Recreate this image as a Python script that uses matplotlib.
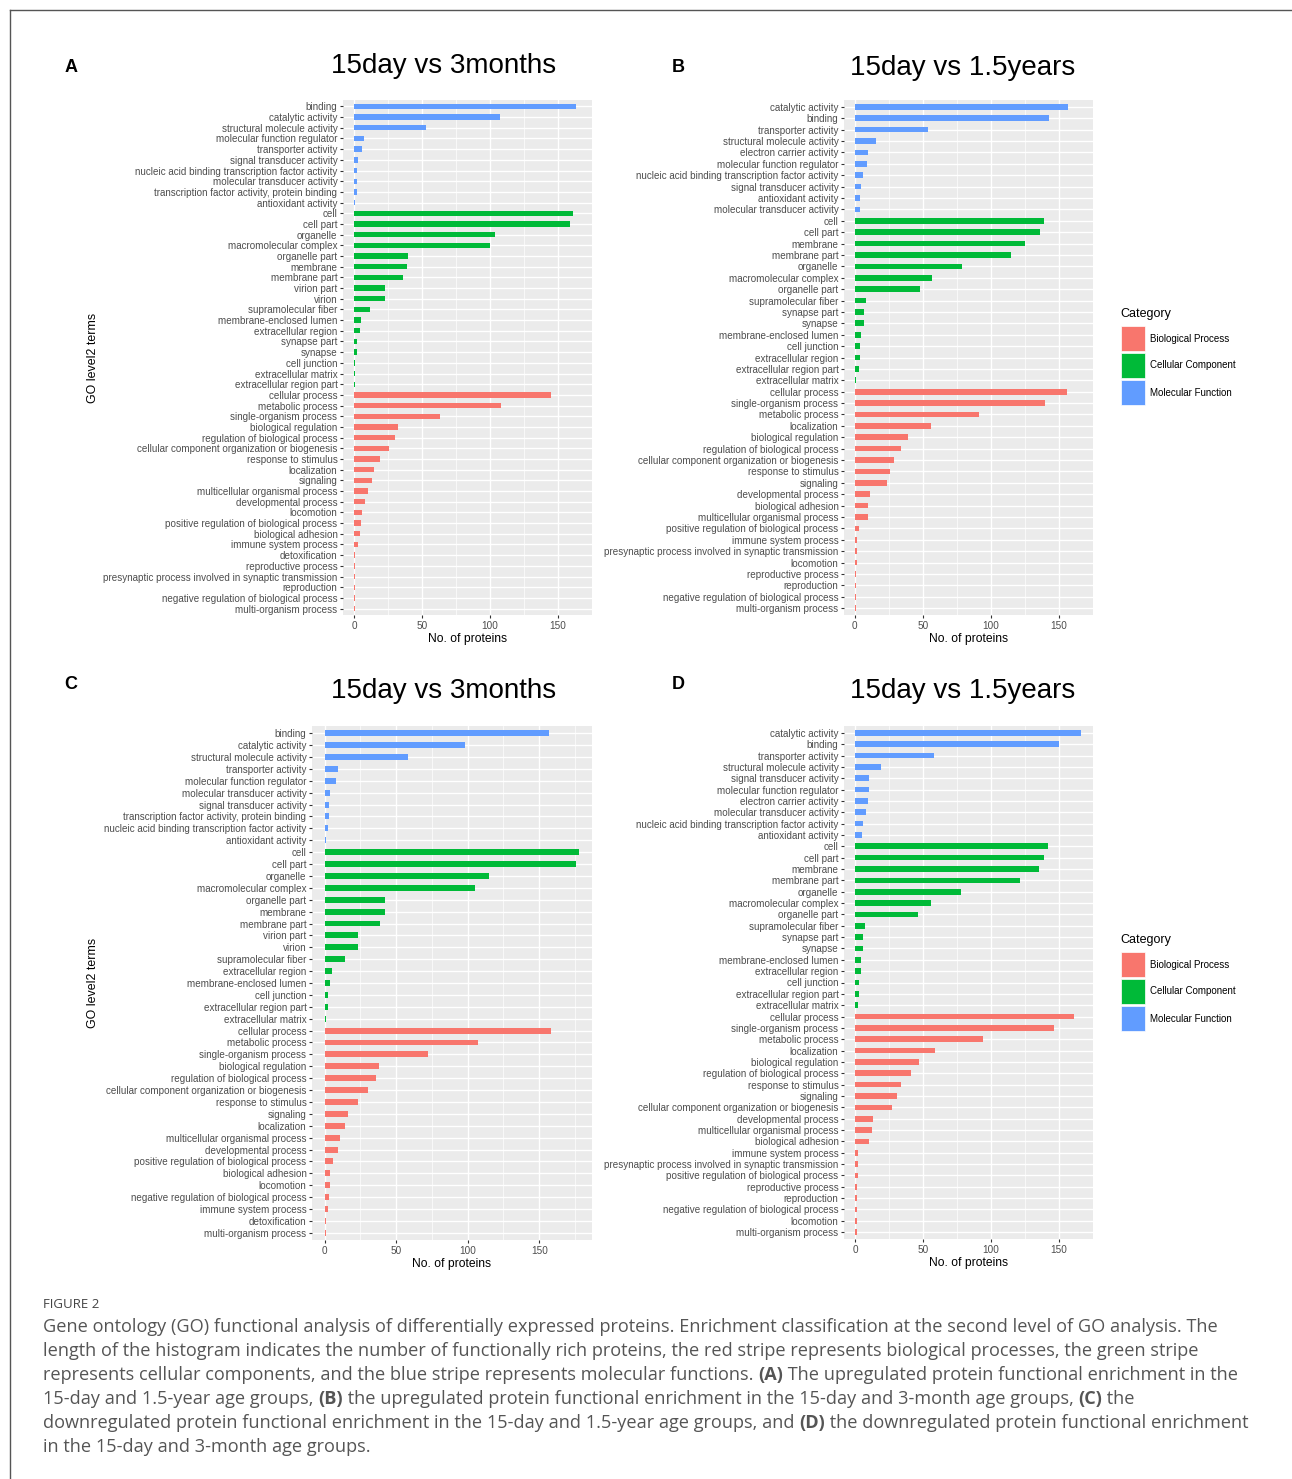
import numpy as np
import matplotlib
matplotlib.use('Agg')
import matplotlib.pyplot as plt
from matplotlib.patches import Rectangle
from matplotlib.lines import Line2D

W, H = 1292, 1479

BP_COL = '#F8766D'
CC_COL = '#00BA38'
MF_COL = '#619CFF'

# ---------------- A: 15day vs 3months (up) ----------------
a_mf_terms = ['binding', 'catalytic activity', 'structural molecule activity',
              'molecular function regulator', 'transporter activity', 'signal transducer activity',
              'nucleic acid binding transcription factor activity', 'molecular transducer activity',
              'transcription factor activity, protein binding', 'antioxidant activity']
a_mf_counts = [163, 107, 53, 7, 6, 3, 2, 2, 2, 1]
a_cc_terms = ['cell', 'cell part', 'organelle', 'macromolecular complex', 'organelle part',
              'membrane', 'membrane part', 'virion part', 'virion', 'supramolecular fiber',
              'membrane-enclosed lumen', 'extracellular region', 'synapse part', 'synapse',
              'cell junction', 'extracellular matrix', 'extracellular region part']
a_cc_counts = [161, 159, 104, 100, 40, 39, 36, 23, 23, 12, 5, 4, 2, 2, 1, 1, 1]
a_bp_terms = ['cellular process', 'metabolic process', 'single-organism process',
              'biological regulation', 'regulation of biological process',
              'cellular component organization or biogenesis', 'response to stimulus',
              'localization', 'signaling', 'multicellular organismal process',
              'developmental process', 'locomotion', 'positive regulation of biological process',
              'biological adhesion', 'immune system process', 'detoxification',
              'reproductive process', 'presynaptic process involved in synaptic transmission',
              'reproduction', 'negative regulation of biological process', 'multi-organism process']
a_bp_counts = [145, 108, 63, 32, 30, 26, 19, 15, 13, 10, 8, 6, 5, 4, 3, 1, 1, 1, 1, 1, 1]

# ---------------- B: 15day vs 1.5years (up) ----------------
b_mf_terms = ['catalytic activity', 'binding', 'transporter activity', 'structural molecule activity',
              'electron carrier activity', 'molecular function regulator',
              'nucleic acid binding transcription factor activity', 'signal transducer activity',
              'antioxidant activity', 'molecular transducer activity']
b_mf_counts = [157, 143, 54, 16, 10, 9, 6, 5, 4, 4]
b_cc_terms = ['cell', 'cell part', 'membrane', 'membrane part', 'organelle', 'macromolecular complex',
              'organelle part', 'supramolecular fiber', 'synapse part', 'synapse',
              'membrane-enclosed lumen', 'cell junction', 'extracellular region',
              'extracellular region part', 'extracellular matrix']
b_cc_counts = [139, 136, 125, 115, 79, 57, 48, 8, 7, 7, 5, 4, 4, 3, 1]
b_bp_terms = ['cellular process', 'single-organism process', 'metabolic process', 'localization',
              'biological regulation', 'regulation of biological process',
              'cellular component organization or biogenesis', 'response to stimulus', 'signaling',
              'developmental process', 'biological adhesion', 'multicellular organismal process',
              'positive regulation of biological process', 'immune system process',
              'presynaptic process involved in synaptic transmission', 'locomotion',
              'reproductive process', 'reproduction', 'negative regulation of biological process',
              'multi-organism process']
b_bp_counts = [156, 140, 91, 56, 39, 34, 29, 26, 24, 11, 10, 10, 3, 2, 2, 2, 1, 1, 1, 1]

# ---------------- C: 15day vs 3months (down) ----------------
c_mf_terms = ['binding', 'catalytic activity', 'structural molecule activity', 'transporter activity',
              'molecular function regulator', 'molecular transducer activity',
              'signal transducer activity', 'transcription factor activity, protein binding',
              'nucleic acid binding transcription factor activity', 'antioxidant activity']
c_mf_counts = [157, 98, 58, 9, 8, 4, 3, 3, 2, 1]
c_cc_terms = ['cell', 'cell part', 'organelle', 'macromolecular complex', 'organelle part',
              'membrane', 'membrane part', 'virion part', 'virion', 'supramolecular fiber',
              'extracellular region', 'membrane-enclosed lumen', 'cell junction',
              'extracellular region part', 'extracellular matrix']
c_cc_counts = [178, 176, 115, 105, 42, 42, 39, 23, 23, 14, 5, 4, 2, 2, 1]
c_bp_terms = ['cellular process', 'metabolic process', 'single-organism process',
              'biological regulation', 'regulation of biological process',
              'cellular component organization or biogenesis', 'response to stimulus',
              'signaling', 'localization', 'multicellular organismal process',
              'developmental process', 'positive regulation of biological process',
              'biological adhesion', 'locomotion', 'negative regulation of biological process',
              'immune system process', 'detoxification', 'multi-organism process']
c_bp_counts = [158, 107, 72, 38, 36, 30, 23, 16, 14, 11, 9, 6, 4, 4, 3, 2, 1, 1]

# ---------------- D: 15day vs 1.5years (down) ----------------
d_mf_terms = ['catalytic activity', 'binding', 'transporter activity', 'structural molecule activity',
              'signal transducer activity', 'molecular function regulator',
              'electron carrier activity', 'molecular transducer activity',
              'nucleic acid binding transcription factor activity', 'antioxidant activity']
d_mf_counts = [166, 150, 58, 19, 10, 10, 9, 8, 6, 5]
d_cc_terms = ['cell', 'cell part', 'membrane', 'membrane part', 'organelle', 'macromolecular complex',
              'organelle part', 'supramolecular fiber', 'synapse part', 'synapse',
              'membrane-enclosed lumen', 'extracellular region', 'cell junction',
              'extracellular region part', 'extracellular matrix']
d_cc_counts = [142, 139, 135, 121, 78, 56, 46, 7, 6, 6, 4, 4, 3, 3, 2]
d_bp_terms = ['cellular process', 'single-organism process', 'metabolic process', 'localization',
              'biological regulation', 'regulation of biological process', 'response to stimulus',
              'signaling', 'cellular component organization or biogenesis', 'developmental process',
              'multicellular organismal process', 'biological adhesion', 'immune system process',
              'presynaptic process involved in synaptic transmission',
              'positive regulation of biological process', 'reproductive process', 'reproduction',
              'negative regulation of biological process', 'locomotion', 'multi-organism process']
d_bp_counts = [161, 146, 94, 59, 47, 41, 34, 31, 27, 13, 12, 10, 2, 2, 2, 1, 1, 1, 1, 1]

caption_title = 'FIGURE 2'
caption_lines = [
    [('Gene ontology (GO) functional analysis of differentially expressed proteins. Enrichment classification at the second level of GO analysis. The', False)],
    [('length of the histogram indicates the number of functionally rich proteins, the red stripe represents biological processes, the green stripe', False)],
    [('represents cellular components, and the blue stripe represents molecular functions. ', False), ('(A)', True),
     (' The upregulated protein functional enrichment in the', False)],
    [('15-day and 1.5-year age groups, ', False), ('(B)', True),
     (' the upregulated protein functional enrichment in the 15-day and 3-month age groups, ', False), ('(C)', True), (' the', False)],
    [('downregulated protein functional enrichment in the 15-day and 1.5-year age groups, and ', False), ('(D)', True),
     (' the downregulated protein functional enrichment', False)],
    [('in the 15-day and 3-month age groups.', False)],
]

TICK_FONT = 'Liberation Sans'

fig = plt.figure(figsize=(W / 100, H / 100), dpi=100)
fig.patch.set_facecolor('white')


def px_axes(left, top, right, bottom):
    return fig.add_axes([left / W, 1 - bottom / H, (right - left) / W, (bottom - top) / H])


def draw_panel(ax, mf_t, mf_c, cc_t, cc_c, bp_t, bp_c):
    terms = mf_t + cc_t + bp_t
    counts = mf_c + cc_c + bp_c
    colors = [MF_COL] * len(mf_t) + [CC_COL] * len(cc_t) + [BP_COL] * len(bp_t)
    n = len(terms)
    y = np.arange(n)[::-1]
    top = max(counts)
    ax.set_facecolor('#EBEBEB')
    ax.set_axisbelow(True)
    ax.barh(y, counts, height=0.5, color=colors, zorder=3)
    ax.set_ylim(-0.6, n - 1 + 0.6)
    ax.set_xlim(-0.05 * top, 1.05 * top)
    ax.set_yticks(y)
    ax.set_yticklabels(terms, fontsize=7.1, color='#4D4D4D', family=TICK_FONT)
    ax.set_xticks([0, 50, 100, 150])
    ax.set_xticklabels(['0', '50', '100', '150'], fontsize=7.2, color='#4D4D4D', family=TICK_FONT)
    ax.set_xticks([25, 75, 125, 175], minor=True)
    ax.grid(which='major', color='white', lw=1.0)
    ax.grid(which='minor', axis='x', color='white', lw=0.5)
    for s in ax.spines.values():
        s.set_visible(False)
    ax.tick_params(which='major', length=2.5, width=0.8, color='#333333', pad=1.5)
    ax.tick_params(which='minor', length=0)
    ax.set_xlabel('No. of proteins', fontsize=8.7, family=TICK_FONT, labelpad=2)


ax_a = px_axes(343, 100, 592, 615)
draw_panel(ax_a, a_mf_terms, a_mf_counts, a_cc_terms, a_cc_counts, a_bp_terms, a_bp_counts)
ax_b = px_axes(844, 100, 1093, 615)
draw_panel(ax_b, b_mf_terms, b_mf_counts, b_cc_terms, b_cc_counts, b_bp_terms, b_bp_counts)
ax_c = px_axes(312, 726, 592, 1240)
draw_panel(ax_c, c_mf_terms, c_mf_counts, c_cc_terms, c_cc_counts, c_bp_terms, c_bp_counts)
ax_d = px_axes(844, 726, 1093, 1239)
draw_panel(ax_d, d_mf_terms, d_mf_counts, d_cc_terms, d_cc_counts, d_bp_terms, d_bp_counts)

# y axis titles on the left panels
for yc in (358, 983):
    fig.text(93 / W, 1 - yc / H, 'GO level2 terms', rotation=90, ha='center', va='center',
             fontsize=8.9, family=TICK_FONT)

# panel titles and letters
TITLE_FONT = 'Liberation Sans'
for x, y, t in [(444, 66, '15day vs 3months'), (963, 68, '15day vs 1.5years'),
                (444, 691, '15day vs 3months'), (963, 691, '15day vs 1.5years')]:
    fig.text(x / W, 1 - y / H, t, ha='center', va='center', fontsize=20, family=TITLE_FONT)
for x, y, t in [(71, 68, 'A'), (678, 68, 'B'), (71, 685, 'C'), (678, 685, 'D')]:
    fig.text(x / W, 1 - y / H, t, ha='center', va='center', fontsize=13, weight='bold',
             family=TICK_FONT)

# category legends
legend_labels = ['Biological Process', 'Cellular Component', 'Molecular Function']
legend_colors = [BP_COL, CC_COL, MF_COL]
for ly in (314, 940):
    fig.text(1120 / W, 1 - ly / H, 'Category', ha='left', va='center', fontsize=9, family=TICK_FONT)
    for i, (lab, col) in enumerate(zip(legend_labels, legend_colors)):
        top = ly + 12 + i * 27
        fig.add_artist(Rectangle((1121 / W, 1 - (top + 25) / H), 24 / W, 25 / H,
                                 transform=fig.transFigure, facecolor=col, edgecolor='white', lw=0.5))
        fig.text(1150 / W, 1 - (top + 12.5) / H, lab, ha='left', va='center', fontsize=7,
                 family=TICK_FONT)

# page frame
fig.add_artist(Line2D([10 / W, 1], [1 - 10 / H, 1 - 10 / H], transform=fig.transFigure,
                      color='#555555', lw=1))
fig.add_artist(Line2D([10 / W, 10 / W], [1 - 10 / H, 0], transform=fig.transFigure,
                      color='#555555', lw=1))

# caption
CAP_FONT = 'Open Sans'
CAP_COL = '#555555'
fig.text(43 / W, 1 - 1304 / H, caption_title, ha='left', va='center', fontsize=9.5,
         family=CAP_FONT, color='#444444')
renderer = fig.canvas.get_renderer()
for i, segs in enumerate(caption_lines):
    x = 43
    yc = 1327 + i * 24
    for txt, bold in segs:
        t = fig.text(x / W, 1 - yc / H, txt, ha='left', va='center', fontsize=13.1,
                     family=CAP_FONT, color=CAP_COL, weight='bold' if bold else 'normal')
        x += t.get_window_extent(renderer).width

fig.savefig('out.png', dpi=100)
